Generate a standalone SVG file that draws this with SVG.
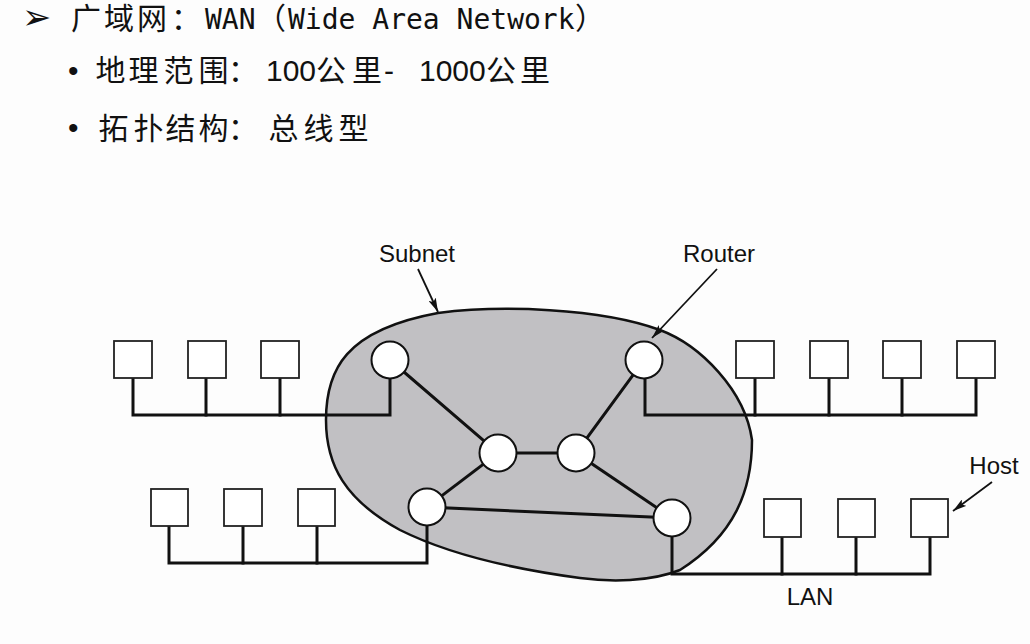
<svg xmlns="http://www.w3.org/2000/svg" width="1030" height="644" viewBox="0 0 1030 644">
<defs>
<style>
.cjk{font-family:"Noto Sans CJK SC",sans-serif;font-size:30px;fill:#111;}
.mono{font-family:"DejaVu Sans Mono","Liberation Mono",monospace;font-size:28px;fill:#111;}
.sans{font-family:"Liberation Sans",Arial,sans-serif;font-size:30px;fill:#111;}
.lbl{font-family:"Liberation Sans",Arial,sans-serif;font-size:24px;fill:#111;}
.host{fill:#fff;stroke:#222;stroke-width:1.8;}
.router{fill:#fff;stroke:#111;stroke-width:2;}
.wire{fill:none;stroke:#111;stroke-width:3;stroke-linejoin:miter;stroke-linecap:square;}
.ptr{fill:none;stroke:#111;stroke-width:1.8;}
</style>
<marker id="ah" viewBox="0 0 14 8" refX="14" refY="4" markerWidth="14" markerHeight="8" markerUnits="userSpaceOnUse" orient="auto">
<path d="M0,0 L14,4 L0,8 L3,4 Z" fill="#111"/>
</marker>
</defs>
<rect width="1030" height="644" fill="#fdfdfd"/>

<g id="header">
<text x="22" y="29" style="font-family:'DejaVu Sans',sans-serif;font-size:35px;fill:#111;">➢</text>
<text y="29"><tspan class="cjk" x="71 104 137 171">广域网：</tspan><tspan class="mono" x="205">WAN</tspan><tspan class="cjk" x="256">（</tspan><tspan class="mono" x="288">Wide Area Network</tspan><tspan class="cjk" x="575">）</tspan></text>
<text class="sans" x="68" y="81">•</text>
<text y="81"><tspan class="cjk" x="95.5 128.5 163.5 198.5 228">地理范围：</tspan><tspan class="sans" x="266">100</tspan><tspan class="cjk" x="316 352">公里</tspan><tspan class="sans" x="384">- </tspan><tspan class="sans" x="419">1000</tspan><tspan class="cjk" x="486 520">公里</tspan></text>
<text class="sans" x="68" y="138">•</text>
<text y="139"><tspan class="cjk" x="98.5 133.5 165.5 198.5 228 268.5 303.5 338.5">拓扑结构：总线型</tspan></text>
</g>

<g id="subnet">
<path d="M438,313 C500,305 600,308 660,330 C700,345 745,390 752,440 C752,490 735,535 680,570 C650,582 610,582 580,578 C520,570 450,555 400,530 C345,500 326,465 326,420 C326,370 345,330 438,313 Z" fill="#c1c0c3" stroke="#111" stroke-width="2.5"/>
</g>

<g id="connectors">
<polyline class="wire" points="133,378 133,415 390,415 390,378"/>
<line class="wire" x1="206" y1="378" x2="206" y2="415"/>
<line class="wire" x1="280" y1="378" x2="280" y2="415"/>
<polyline class="wire" points="645,378 645,415 976,415 976,378"/>
<line class="wire" x1="755" y1="378" x2="755" y2="415"/>
<line class="wire" x1="829" y1="378" x2="829" y2="415"/>
<line class="wire" x1="902" y1="378" x2="902" y2="415"/>
<polyline class="wire" points="169,526 169,563 427,563 427,525"/>
<line class="wire" x1="243" y1="526" x2="243" y2="563"/>
<line class="wire" x1="317" y1="526" x2="317" y2="563"/>
<polyline class="wire" points="672,536 672,574 930,574 930,537"/>
<line class="wire" x1="782" y1="537" x2="782" y2="574"/>
<line class="wire" x1="856" y1="537" x2="856" y2="574"/>
<line class="wire" x1="390" y1="360" x2="498" y2="453"/>
<line class="wire" x1="498" y1="453" x2="576" y2="453"/>
<line class="wire" x1="576" y1="453" x2="644" y2="360"/>
<line class="wire" x1="498" y1="453" x2="427" y2="507"/>
<line class="wire" x1="427" y1="507" x2="672" y2="518"/>
<line class="wire" x1="576" y1="453" x2="672" y2="518"/>
<line class="ptr" x1="418" y1="269" x2="438" y2="312" marker-end="url(#ah)"/>
<line class="ptr" x1="717" y1="269" x2="652" y2="338" marker-end="url(#ah)"/>
<line class="ptr" x1="992" y1="482" x2="953" y2="511" marker-end="url(#ah)"/>
</g>

<g id="hosts-top-left">
<rect class="host" x="114" y="341" width="38" height="37"/>
<rect class="host" x="188" y="341" width="38" height="37"/>
<rect class="host" x="261" y="341" width="38" height="37"/>
</g>
<g id="hosts-top-right">
<rect class="host" x="736" y="341" width="38" height="37"/>
<rect class="host" x="810" y="341" width="38" height="37"/>
<rect class="host" x="883" y="341" width="38" height="37"/>
<rect class="host" x="957" y="341" width="38" height="37"/>
</g>
<g id="hosts-bottom-left">
<rect class="host" x="151" y="489" width="37" height="37"/>
<rect class="host" x="224" y="489" width="38" height="37"/>
<rect class="host" x="298" y="489" width="37" height="37"/>
</g>
<g id="hosts-bottom-right">
<rect class="host" x="764" y="499" width="37" height="38"/>
<rect class="host" x="838" y="499" width="37" height="38"/>
<rect class="host" x="911" y="499" width="37" height="38"/>
</g>

<g id="router-1"><circle class="router" cx="390" cy="360" r="18.5"/></g>
<g id="router-2"><circle class="router" cx="644" cy="360" r="18.5"/></g>
<g id="router-3"><circle class="router" cx="498" cy="453" r="18.5"/></g>
<g id="router-4"><circle class="router" cx="576" cy="453" r="18.5"/></g>
<g id="router-5"><circle class="router" cx="427" cy="507" r="18.5"/></g>
<g id="router-6"><circle class="router" cx="672" cy="518" r="18.5"/></g>

<g id="labels">
<text class="lbl" x="417" y="262" text-anchor="middle">Subnet</text>
<text class="lbl" x="719" y="262" text-anchor="middle">Router</text>
<text class="lbl" x="994" y="474" text-anchor="middle">Host</text>
<text class="lbl" x="810" y="605" text-anchor="middle">LAN</text>
</g>
</svg>
